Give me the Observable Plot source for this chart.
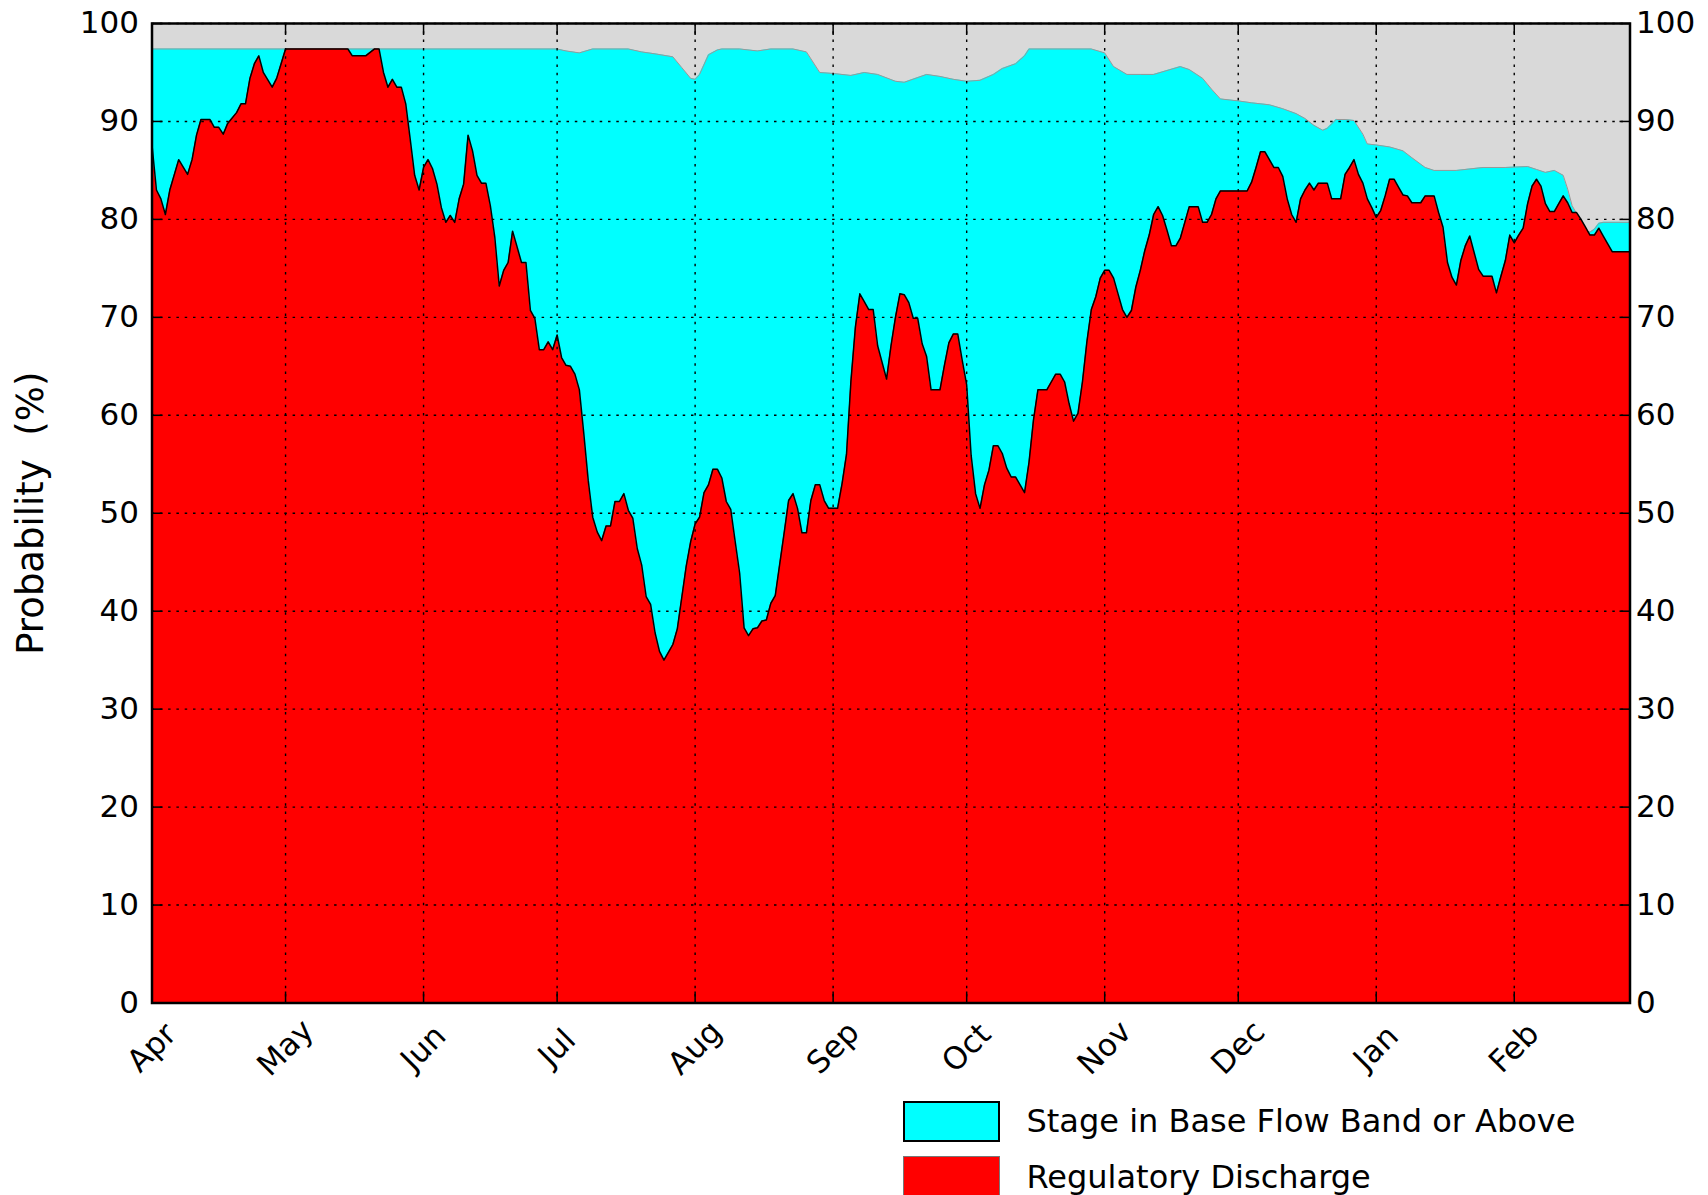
<!DOCTYPE html>
<html><head><meta charset="utf-8">
<script src="https://cdn.jsdelivr.net/npm/d3@7"></script>
<script src="https://cdn.jsdelivr.net/npm/@observablehq/plot@0.6"></script>
<style>
html,body{margin:0;padding:0;background:#fff;}
#wrap{position:relative;width:1708px;height:1195px;overflow:hidden;font-family:"DejaVu Sans",sans-serif;}
#wrap svg text{white-space:pre;}
.legend{position:absolute;left:903px;top:1100.5px;}
.item{display:flex;align-items:center;height:41px;margin-bottom:14.5px;}
.sw{width:97px;height:41px;box-sizing:border-box;flex:none;}
.lab{margin-left:26.5px;font-size:32px;color:#000;white-space:nowrap;}
</style></head><body><div id="wrap"></div>
<script>
// Day offsets from 1 April; values in percent
const redDays = [0,1,2,3,4,6,8,9,10,11,13,14,15,16,17,19,20,21,22,23,24,25,27,28,29,30,44,45,48,50,51,52,53,54,55,56,57,58,59,60,61,62,63,64,65,66,67,68,69,70,71,72,73,74,75,76,77,78,79,80,81,82,83,84,85,86,87,88,89,90,91,92,93,94,95,96,97,98,99,100,101,102,103,104,105,106,107,108,109,110,111,112,113,114,115,116,117,118,119,120,121,122,123,124,125,126,127,128,129,130,131,132,133,134,135,136,137,138,139,140,141,142,143,144,145,146,147,148,149,150,151,152,153,154,155,156,157,158,159,160,161,162,163,165,166,167,168,169,170,171,172,173,174,175,177,178,179,180,181,182,183,184,185,186,187,188,189,190,191,192,193,194,196,197,198,199,201,202,203,204,205,206,207,208,209,210,211,212,213,214,215,216,217,218,219,220,221,222,223,224,225,226,227,228,229,230,231,232,233,235,236,237,238,239,240,246,247,248,249,250,251,252,253,254,255,256,257,258,259,260,261,262,264,265,267,268,269,270,271,272,273,274,275,276,277,278,279,280,281,282,283,285,286,288,289,290,291,292,293,294,295,296,297,298,299,301,302,303,304,305,306,307,308,309,310,311,312,313,314,315,316,317,318,319,320,321,322,323,324,325,326,327,328,332];
const redValues = [87.6,83.0,82.1,80.5,83.0,86.1,84.6,86.1,88.6,90.2,90.2,89.4,89.4,88.7,89.8,90.9,91.8,91.8,94.4,95.9,96.7,95.0,93.5,94.4,95.9,97.4,97.4,96.7,96.7,97.4,97.4,95.0,93.5,94.3,93.5,93.5,91.8,88.2,84.5,83.0,85.3,86.1,85.2,83.6,81.2,79.7,80.4,79.7,82.1,83.6,88.6,87.0,84.5,83.7,83.7,81.4,78.2,73.2,74.8,75.6,78.8,77.2,75.6,75.6,70.7,69.9,66.7,66.7,67.5,66.7,68.2,65.9,65.1,65.0,64.2,62.6,58.1,53.3,49.6,48.1,47.2,48.7,48.7,51.2,51.2,52.0,50.3,49.5,46.4,44.7,41.5,40.7,37.8,35.9,35.0,35.8,36.6,38.2,41.4,44.6,47.1,48.9,49.6,52.1,52.9,54.5,54.5,53.6,51.2,50.4,47.1,43.9,38.3,37.5,38.2,38.3,39.0,39.1,40.8,41.6,44.8,48.0,51.3,52.0,50.5,48.0,48.0,51.3,52.9,52.9,51.3,50.5,50.5,50.5,53.0,56.0,63.5,69.0,72.4,71.6,70.8,70.8,67.1,63.7,67.1,70.0,72.4,72.3,71.5,69.9,69.9,67.3,66.0,62.6,62.6,65.1,67.4,68.3,68.3,65.6,63.1,55.9,52.0,50.5,52.9,54.4,56.9,56.9,56.1,54.6,53.7,53.7,52.1,55.2,59.5,62.6,62.6,63.4,64.2,64.2,63.4,61.2,59.4,60.2,63.4,67.5,70.8,72.1,74.0,74.8,74.8,74.0,72.4,70.8,70.0,70.7,73.1,74.8,76.8,78.4,80.5,81.3,80.4,78.9,77.3,77.3,78.1,79.7,81.3,81.3,79.7,79.7,80.5,82.1,82.9,82.9,83.8,85.3,86.9,86.9,86.1,85.3,85.3,84.4,82.1,80.5,79.7,82.1,83.0,83.7,83.0,83.7,83.7,82.1,82.1,84.6,85.3,86.1,84.6,83.7,82.1,81.2,80.2,80.9,82.4,84.1,84.1,83.3,82.5,82.4,81.7,81.7,82.4,82.4,80.7,79.2,75.6,74.1,73.3,75.8,77.3,78.3,76.6,74.9,74.2,74.2,72.5,74.2,75.8,78.4,77.6,78.4,79.1,81.6,83.4,84.1,83.4,81.6,80.8,80.8,81.6,82.4,81.7,80.7,80.7,80.0,79.2,78.4,78.4,79.1,78.3,77.5,76.7,76.7];
const cyanDays = [0,91,93,96,99,107,110,113,117,119,121,122,123,125,127,128,132,136,139,144,147,150,153,157,160,163,167,169,174,177,180,183,186,189,191,194,196,197,211,214,216,219,222,225,228,231,233,236,238,240,244,247,251,254,257,259,261,263,264,266,268,270,272,273,275,278,281,283,286,288,293,299,304,309,311,313,315,317,318,319,320,321,322,323,324,325,326,332];
const cyanValues = [97.4,97.4,97.2,97.0,97.4,97.4,97.1,96.9,96.6,95.5,94.4,94.3,94.8,96.8,97.3,97.4,97.4,97.2,97.4,97.4,97.1,95.0,94.9,94.7,95.0,94.8,94.1,94.0,94.8,94.6,94.3,94.1,94.2,94.8,95.4,95.9,96.7,97.4,97.4,97.0,95.6,94.8,94.8,94.8,95.2,95.6,95.3,94.4,93.3,92.3,92.1,91.9,91.7,91.3,90.8,90.3,89.6,89.1,89.3,90.2,90.2,90.1,88.7,87.7,87.6,87.4,87.0,86.3,85.3,85.0,85.0,85.3,85.3,85.4,85.1,84.8,85.0,84.5,83.1,81.4,80.6,79.7,78.9,78.7,79.0,79.6,79.7,79.7];
const monthLabels = ["Apr","May","Jun","Jul","Aug","Sep","Oct","Nov","Dec","Jan","Feb"];
const yTicks = [0,10,20,30,40,50,60,70,80,90,100];
const lastDay = 332;
const yLabel = "Probability  (%)";
const cyanName = "Stage in Base Flow Band or Above";
const redName = "Regulatory Discharge";

const start = new Date(Date.UTC(2018, 3, 1));
const toDate = d => d3.utcDay.offset(start, d);
const red = redDays.map((d, i) => ({date: toDate(d), value: redValues[i]}));
const cyan = cyanDays.map((d, i) => ({date: toDate(d), value: cyanValues[i]}));
const months = monthLabels.map((m, i) => ({date: d3.utcMonth.offset(start, i), label: m}));
const monthDates = months.map(m => m.date);

const grid = {stroke: "black", strokeOpacity: 1, strokeWidth: 1.4, strokeDasharray: "2.5,5.8"};
const chart = Plot.plot({
  width: 1708, height: 1090,
  marginLeft: 151.5, marginRight: 78.5, marginTop: 23, marginBottom: 87.5,
  style: {fontFamily: "DejaVu Sans", fontSize: "31px", background: "white", color: "black", overflow: "visible"},
  x: {type: "utc", domain: [start, toDate(lastDay)]},
  y: {domain: [0, 100]},
  marks: [
    Plot.frame({fill: "#d9d9d9", stroke: null}),
    Plot.areaY(cyan, {x: "date", y: "value", fill: "#00ffff"}),
    Plot.lineY(cyan, {x: "date", y: "value", stroke: "#999999", strokeWidth: 1}),
    Plot.areaY(red, {x: "date", y: "value", fill: "#ff0000"}),
    Plot.gridX(monthDates, grid),
    Plot.gridY(yTicks, grid),
    Plot.lineY(red, {x: "date", y: "value", stroke: "black", strokeWidth: 1.5}),
    Plot.axisY(yTicks, {anchor: "left", tickSize: 0, tickPadding: 13, label: null, fontSize: 31}),
    Plot.axisY(yTicks, {anchor: "left", tickSize: 0, tickFormat: () => "", label: yLabel, labelAnchor: "center", labelOffset: 135, labelArrow: "none", fontSize: 37}),
    Plot.axisY(yTicks, {anchor: "right", tickSize: 0, tickPadding: 6, label: null, fontSize: 31}),
    Plot.axisY(yTicks, {anchor: "left", tickSize: -11, strokeWidth: 1.5, tickFormat: () => "", label: null}),
    Plot.axisY(yTicks, {anchor: "right", tickSize: -11, strokeWidth: 1.5, tickFormat: () => "", label: null}),
    Plot.axisX(monthDates, {anchor: "bottom", tickSize: -11, strokeWidth: 1.5, tickFormat: () => "", label: null}),
    Plot.axisX(monthDates, {anchor: "top", tickSize: -11, strokeWidth: 1.5, tickFormat: () => "", label: null}),
    Plot.text(months, {x: "date", text: "label", frameAnchor: "bottom", dy: 45, rotate: -45, textAnchor: "middle", lineAnchor: "middle", fontSize: 31, fill: "black"}),
    Plot.frame({stroke: "black", strokeWidth: 2.5})
  ]
});
const wrap = document.getElementById("wrap");
wrap.appendChild(chart);
const legend = document.createElement("div");
legend.className = "legend";
legend.innerHTML = `<div class="item"><div class="sw" style="background:#00ffff;border:2px solid #000"></div><div class="lab">${cyanName}</div></div>
<div class="item"><div class="sw" style="background:#ff0000;border:1px solid #777"></div><div class="lab">${redName}</div></div>`;
wrap.appendChild(legend);
</script></body></html>
